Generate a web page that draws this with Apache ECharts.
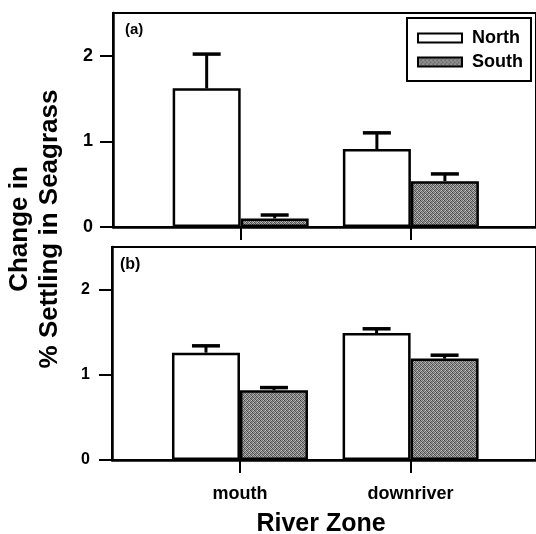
<!DOCTYPE html>
<html>
<head>
<meta charset="utf-8">
<script src="https://cdn.jsdelivr.net/npm/echarts@6/dist/echarts.min.js"></script>
<style>
  html, body { margin: 0; padding: 0; background: #fff; }
  #chart { width: 536px; height: 534px; }
</style>
</head>
<body>
<div id="chart"></div>
<script>
// river zones and their positions on the x scale
const zones = ['mouth', 'downriver']
const zonePos = [1, 2]
const yTicks = [0, 1, 2]

// panel (a)
const northA = [1.62, 0.91]
const northAErr = [0.40, 0.19]
const southA = [0.10, 0.535]
const southAErr = [0.04, 0.085]

// panel (b)
const northB = [1.26, 1.49]
const northBErr = [0.08, 0.05]
const southB = [0.82, 1.19]
const southBErr = [0.03, 0.04]

const FONT = '"Liberation Sans", Arial, Helvetica, sans-serif'

// stippled grey fill for South bars
const cv = document.createElement('canvas')
cv.width = 4
cv.height = 4
const ctx = cv.getContext('2d')
const shades = [
  '#464646', '#a4a4a4', '#686868', '#bdbdbd',
  '#949494', '#565656', '#b0b0b0', '#5e5e5e',
  '#727272', '#c2c2c2', '#4a4a4a', '#8e8e8e',
  '#acacac', '#666666', '#a6a6a6', '#525252'
]
shades.forEach((c, i) => {
  ctx.fillStyle = c
  ctx.fillRect(i % 4, Math.floor(i / 4), 1, 1)
})
const southFill = { image: cv, repeat: 'repeat' }

const pairs = (vals) => vals.map((v, i) => [zonePos[i], v])
const errPairs = (vals, err) => vals.map((v, i) => [zonePos[i], v, v + err[i]])

const errRender = (shift) => (params, api) => {
  const top = api.coord([api.value(0), api.value(2)])
  const base = api.coord([api.value(0), api.value(1)])
  const x = top[0] + shift
  const st = { stroke: '#000', lineWidth: 3 }
  return {
    type: 'group',
    children: [
      { type: 'line', shape: { x1: x, y1: base[1], x2: x, y2: top[1] }, style: st },
      { type: 'line', shape: { x1: x - 14, y1: top[1], x2: x + 14, y2: top[1] }, style: { stroke: '#000', lineWidth: 3.5 } }
    ]
  }
}

const xAxisFor = (gi, withLabels) => ({
  type: 'value',
  gridIndex: gi,
  min: 0.25,
  max: 2.735,
  splitLine: { show: false },
  axisLine: { show: true, lineStyle: { color: '#000', width: 2.5 } },
  axisTick: { show: true, customValues: zonePos, length: 13, lineStyle: { color: '#000', width: 2 } },
  axisLabel: {
    show: withLabels,
    customValues: zonePos,
    formatter: (v) => zones[zonePos.indexOf(v)] || '',
    color: '#000',
    fontSize: 18,
    fontWeight: 'bold',
    fontFamily: FONT,
    margin: 25
  }
})

const yAxisFor = (gi, size, margin) => ({
  type: 'value',
  gridIndex: gi,
  min: 0,
  max: 2.5,
  splitLine: { show: false },
  axisLine: { show: true, lineStyle: { color: '#000', width: 2.5 } },
  axisTick: { show: true, customValues: yTicks, length: 13, lineStyle: { color: '#000', width: 2 } },
  axisLabel: {
    customValues: yTicks,
    color: '#000',
    fontSize: size,
    fontWeight: 'bold',
    fontFamily: FONT,
    margin: margin
  }
})

const barFor = (name, gi, vals, color) => ({
  name: name,
  type: 'bar',
  xAxisIndex: gi,
  yAxisIndex: gi,
  barWidth: 68,
  barGap: '0%',
  data: pairs(vals),
  itemStyle: { color: color, borderColor: '#000', borderWidth: 2.5 },
  emphasis: { disabled: true }
})

const errFor = (gi, vals, err, shift) => ({
  type: 'custom',
  xAxisIndex: gi,
  yAxisIndex: gi,
  data: errPairs(vals, err),
  encode: { x: 0, y: 2 },
  renderItem: errRender(shift),
  z: 3
})

const chart = echarts.init(document.getElementById('chart'))
chart.setOption({
  animation: false,
  textStyle: { fontFamily: FONT },
  grid: [
    { left: 113, top: 13, width: 425, height: 214, show: true, borderColor: '#000', borderWidth: 2 },
    { left: 112, top: 247, width: 426, height: 213, show: true, borderColor: '#000', borderWidth: 2 }
  ],
  xAxis: [xAxisFor(0, false), xAxisFor(1, true)],
  yAxis: [yAxisFor(0, 18, 20), yAxisFor(1, 16, 22)],
  legend: {
    data: ['North', 'South'],
    orient: 'vertical',
    left: 407,
    top: 18,
    padding: [10, 8, 9, 10],
    itemGap: 4,
    itemWidth: 44,
    itemHeight: 9,
    icon: 'rect',
    borderColor: '#000',
    borderWidth: 2,
    textStyle: { color: '#000', fontSize: 18, fontWeight: 'bold', fontFamily: FONT, padding: [0, 0, 0, 5], lineHeight: 20 }
  },
  series: [
    barFor('North', 0, northA, '#fff'),
    barFor('South', 0, southA, southFill),
    barFor('North', 1, northB, '#fff'),
    barFor('South', 1, southB, southFill),
    errFor(0, northA, northAErr, -34),
    errFor(0, southA, southAErr, 34),
    errFor(1, northB, northBErr, -34),
    errFor(1, southB, southBErr, 34)
  ],
  graphic: [
    {
      type: 'text', x: 35, y: 229, rotation: Math.PI / 2,
      style: {
        text: 'Change in\n% Settling in Seagrass',
        font: 'bold 26px ' + FONT, fill: '#000',
        textAlign: 'center', textVerticalAlign: 'middle', lineHeight: 30
      }
    },
    {
      type: 'text', x: 321, y: 524,
      style: { text: 'River Zone', font: 'bold 25px ' + FONT, fill: '#000', textAlign: 'center', textVerticalAlign: 'middle' }
    },
    {
      type: 'text', x: 125, y: 30,
      style: { text: '(a)', font: 'bold 15px ' + FONT, fill: '#000', textVerticalAlign: 'middle' }
    },
    {
      type: 'text', x: 120, y: 265,
      style: { text: '(b)', font: 'bold 16px ' + FONT, fill: '#000', textVerticalAlign: 'middle' }
    }
  ]
})
</script>
</body>
</html>
